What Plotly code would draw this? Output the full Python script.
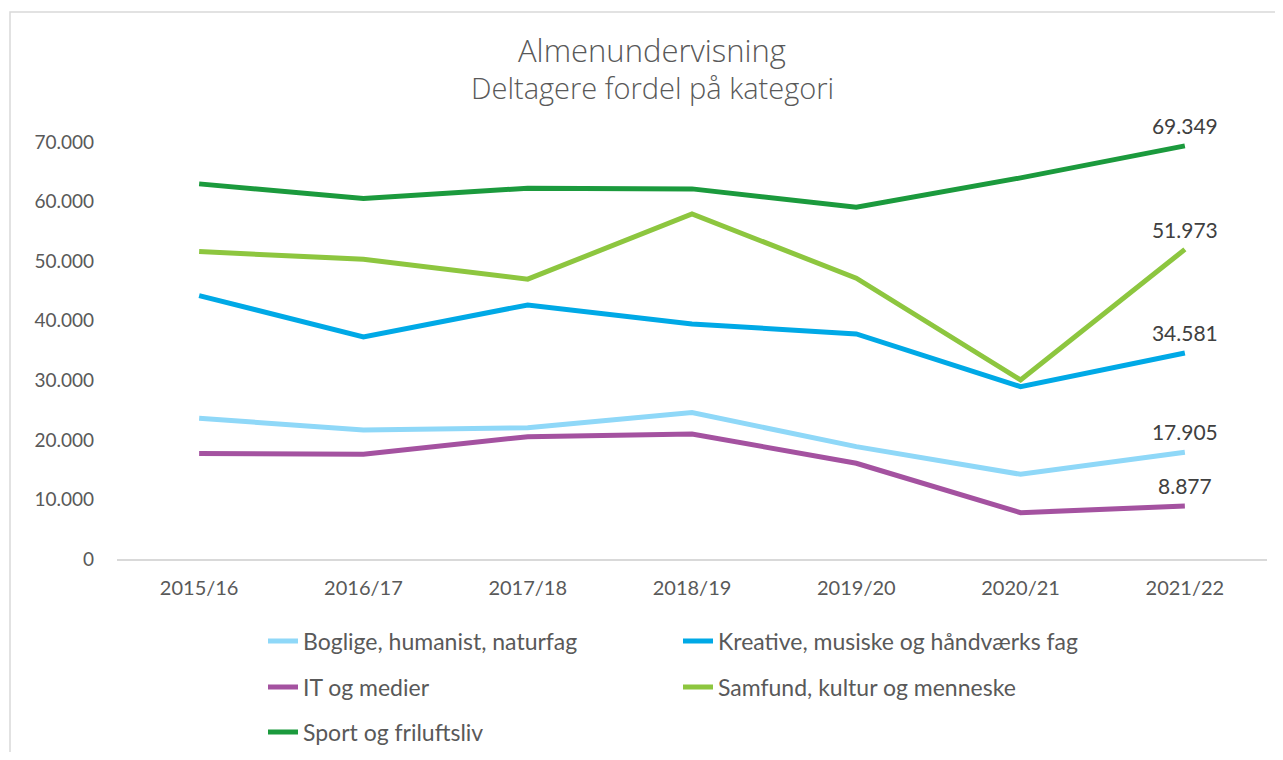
import plotly.graph_objects as go

years = ["2015/16", "2016/17", "2017/18", "2018/19", "2019/20", "2020/21", "2021/22"]

boglige = [23630, 21660, 22050, 24570, 18860, 14220, 17905]
kreative = [44220, 37280, 42650, 39460, 37780, 28930, 34581]
it_medier = [17690, 17580, 20540, 20990, 16070, 7780, 8877]
samfund = [51600, 50330, 46970, 57930, 47140, 30060, 51973]
sport = [62970, 60500, 62250, 62130, 59060, 63980, 69349]

names = [
    "Boglige, humanist, naturfag",
    "Kreative, musiske og håndværks fag",
    "IT og medier",
    "Samfund, kultur og menneske",
    "Sport og friluftsliv",
]
series = [boglige, kreative, it_medier, samfund, sport]
colors = ["#8FD8F8", "#00A9E6", "#A452A0", "#8DC63F", "#1B9A3D"]
legend_ids = ["legend", "legend", "legend2", "legend2", "legend3"]

FONT = "Lato"
TXT = "#595959"

def fmt(v):
    return f"{v:,}".replace(",", ".")

fig = go.Figure()
for name, vals, col, lg in zip(names, series, colors, legend_ids):
    labels = [""] * (len(vals) - 1) + [fmt(vals[-1])]
    fig.add_trace(go.Scatter(
        x=years, y=vals, name=name, mode="lines+markers+text",
        text=labels, textposition="top center",
        textfont=dict(family=FONT, size=21, color="#404040"),
        line=dict(color=col, width=5),
        marker=dict(size=9, color="rgba(0,0,0,0)"),
        legend=lg, cliponaxis=False,
    ))

# page body has an 8px margin; work in screen pixels and convert
OFF = 8
W, H = 1283 - 2 * OFF, 760 - 2 * OFF
L = 117 - OFF
R = W - (1267 - OFF)
T = 142 - OFF
B = H - (559 - OFF)
pw, ph = W - L - R, H - T - B

def px(xs):
    return (xs - OFF - L) / pw

def py(ys):
    return (H - B - (ys - OFF)) / ph

leg_common = dict(orientation="h", font=dict(family=FONT, size=23, color=TXT),
                  entrywidth=370, xanchor="left", yanchor="middle",
                  bgcolor="rgba(0,0,0,0)", itemsizing="constant")

fig.update_layout(
    width=W, height=H,
    margin=dict(l=L, r=R, t=T, b=B, autoexpand=False),
    paper_bgcolor="white", plot_bgcolor="white",
    separators=",.",
    showlegend=True,
    legend=dict(x=px(263), y=py(641), **leg_common),
    legend2=dict(x=px(263), y=py(687), **leg_common),
    legend3=dict(x=px(263), y=py(732), **leg_common),
    xaxis=dict(
        range=[-0.5, 6.5], automargin=False,
        showgrid=False, showline=True, linecolor="#D9D9D9", linewidth=1.5,
        tickfont=dict(family=FONT, size=20, color=TXT),
        ticks="", ticklabelstandoff=10,
    ),
    yaxis=dict(
        range=[0, 70000], tick0=0, dtick=10000, tickformat=",d", automargin=False,
        showgrid=False, showline=False, zeroline=False,
        tickfont=dict(family=FONT, size=19, color=TXT),
        ticks="", ticklabelstandoff=22,
    ),
    annotations=[
        dict(text="Almenundervisning", x=px(652), y=py(50), xref="paper", yref="paper",
             showarrow=False, font=dict(family="Open Sans", size=31, color=TXT, weight=300),
             xanchor="center", yanchor="middle"),
        dict(text="Deltagere fordel på kategori", x=px(652), y=py(88), xref="paper", yref="paper",
             showarrow=False, font=dict(family="Open Sans", size=29, color=TXT, weight=300),
             xanchor="center", yanchor="middle"),
    ],
    shapes=[
        dict(type="rect", xref="paper", yref="paper", x0=px(10), y0=py(800), x1=px(1320), y1=py(12),
             line=dict(color="#D9D9D9", width=1.5), layer="below"),
    ],
)

fig.write_html("out.html")
